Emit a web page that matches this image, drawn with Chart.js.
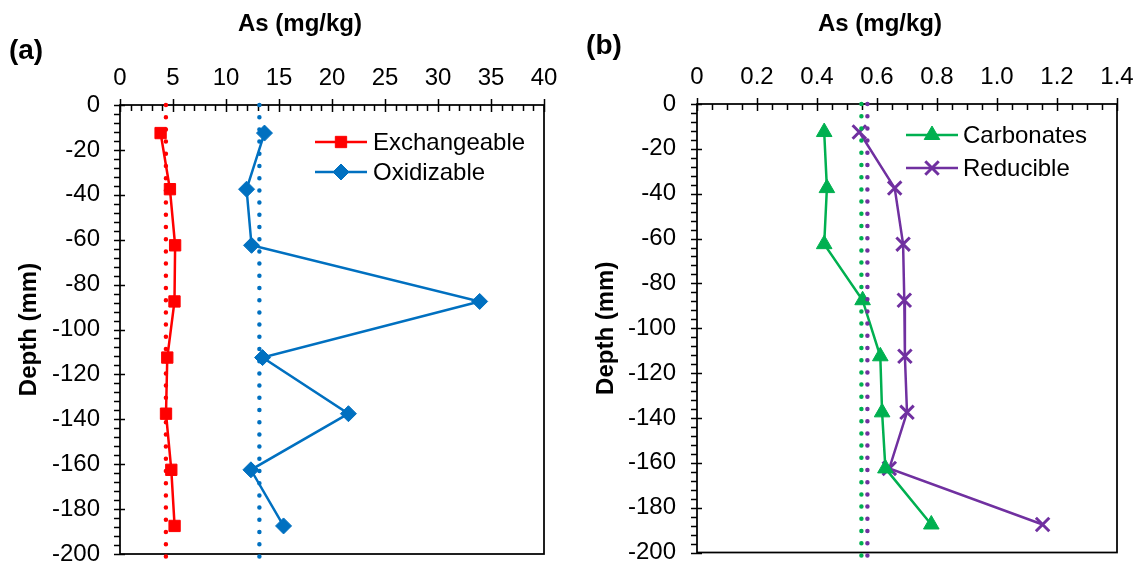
<!DOCTYPE html>
<html>
<head>
<meta charset="utf-8">
<script src="https://cdn.jsdelivr.net/npm/chart.js@4.4.0/dist/chart.umd.min.js"></script>
<style>
body { margin: 0; background: #fff; }
#wrap { position: relative; width: 1142px; height: 565px; overflow: hidden; font-family: "Liberation Sans", Arial, sans-serif; }
#wrap canvas { position: absolute; top: 0; }
.lbl { position: absolute; font-weight: bold; color: #000; line-height: 1; white-space: nowrap; transform: translate(-50%, -50%); }
</style>
</head>
<body>
<div id="wrap">
  <canvas id="chartA" width="571" height="565" style="left:0"></canvas>
  <canvas id="chartB" width="571" height="565" style="left:571px"></canvas>
  <div class="lbl" style="left:300px;top:23px;font-size:24px">As (mg/kg)</div>
  <div class="lbl" style="left:880px;top:23px;font-size:24px">As (mg/kg)</div>
  <div class="lbl" style="left:26px;top:50px;font-size:28px">(a)</div>
  <div class="lbl" style="left:604px;top:45px;font-size:28px">(b)</div>
</div>
<script>
// depth of each sampled layer (mm)
var depth = [-12.5, -37.5, -62.5, -87.5, -112.5, -137.5, -162.5, -187.5];

// panel (a)
var exchangeable = [3.83, 4.71, 5.2, 5.14, 4.46, 4.34, 4.84, 5.15];
var oxidizable = [13.63, 11.94, 12.41, 33.93, 13.45, 21.55, 12.35, 15.43];

// panel (b)
var carbonates = [0.424, 0.433, 0.424, 0.552, 0.611, 0.617, 0.628, 0.781];
var reducible = [0.541, 0.659, 0.687, 0.691, 0.693, 0.700, 0.641, 1.152];

// dotted reference lines
var refDepth = [0, -203];
var exchangeableRef = [4.33, 4.33];
var oxidizableRef = [13.15, 13.15];
var carbonatesRef = [0.548, 0.548];
var reducibleRef = [0.568, 0.568];

var xTicksA = { min: 0, max: 40, step: 5, minor: 1 };
var xTicksB = { min: 0, max: 1.4, step: 0.2, minor: 0.05 };
var yTicks = { min: -200, max: 0, step: 20, minor: 4 };

var RED = '#FF0000', BLUE = '#0070C0', GREEN = '#00B050', PURPLE = '#7030A0';

Chart.defaults.font.family = '"Liberation Sans", Arial, sans-serif';
Chart.defaults.font.size = 24;
Chart.defaults.color = '#000';

function pts(xs, ys) {
  return xs.map(function(v, i) { return { x: v, y: ys[i] }; });
}

function series(label, xs, color, style, radius, pbw) {
  return {
    label: label,
    data: pts(xs, depth),
    showLine: true,
    borderColor: color,
    backgroundColor: color,
    borderWidth: 2.5,
    pointStyle: style,
    pointRadius: radius,
    pointHoverRadius: radius,
    pointBorderWidth: pbw,
    pointBorderColor: color,
    pointBackgroundColor: color,
    order: 2
  };
}

function refLine(xs, color) {
  return {
    label: '',
    data: pts(xs, refDepth),
    showLine: true,
    borderColor: color,
    borderWidth: 4.5,
    borderDash: [0, 12.2],
    borderCapStyle: 'round',
    pointRadius: 0,
    pointHoverRadius: 0,
    clip: false,
    order: 1
  };
}

function drawMarker(ctx, style, x, y, r, color, bw) {
  ctx.save();
  ctx.fillStyle = color;
  ctx.strokeStyle = color;
  ctx.lineWidth = bw;
  ctx.beginPath();
  if (style === 'rect') {
    var s = r * Math.SQRT1_2;
    ctx.rect(x - s, y - s, 2 * s, 2 * s);
    ctx.fill(); ctx.stroke();
  } else if (style === 'rectRot') {
    ctx.moveTo(x - r, y); ctx.lineTo(x, y - r); ctx.lineTo(x + r, y); ctx.lineTo(x, y + r);
    ctx.closePath(); ctx.fill(); ctx.stroke();
  } else if (style === 'triangle') {
    ctx.moveTo(x, y - r);
    ctx.lineTo(x + r * 0.866, y + r * 0.5);
    ctx.lineTo(x - r * 0.866, y + r * 0.5);
    ctx.closePath(); ctx.fill(); ctx.stroke();
  } else if (style === 'crossRot') {
    var o = r * Math.SQRT1_2;
    ctx.moveTo(x - o, y - o); ctx.lineTo(x + o, y + o);
    ctx.moveTo(x - o, y + o); ctx.lineTo(x + o, y - o);
    ctx.stroke();
  }
  ctx.restore();
}

// box round the plot plus major/minor tick marks
var frameTicks = {
  id: 'frameTicks',
  beforeDatasetsDraw: function(chart, args, o) {
    var ctx = chart.ctx, a = chart.chartArea, xs = chart.scales.x, ys = chart.scales.y;
    ctx.save();
    ctx.strokeStyle = '#000';
    ctx.lineWidth = 1.75;
    ctx.strokeRect(a.left, a.top, a.right - a.left, a.bottom - a.top);
    ctx.lineWidth = 1.5;
    ctx.beginPath();
    var n = Math.round((o.x.max - o.x.min) / o.x.minor);
    var every = Math.round(o.x.step / o.x.minor);
    for (var i = 0; i <= n; i++) {
      var px = Math.round(xs.getPixelForValue(o.x.min + i * o.x.minor)) + 0.5;
      if (i % every === 0) { ctx.moveTo(px, a.top - 6); ctx.lineTo(px, a.top + 7); }
      else { ctx.moveTo(px, a.top); ctx.lineTo(px, a.top + 6); }
    }
    n = Math.round((o.y.max - o.y.min) / o.y.minor);
    every = Math.round(o.y.step / o.y.minor);
    for (i = 0; i <= n; i++) {
      var py = Math.round(ys.getPixelForValue(o.y.max - i * o.y.minor)) + 0.5;
      if (i % every === 0) { ctx.moveTo(a.left - 6, py); ctx.lineTo(a.left + 5, py); }
      else { ctx.moveTo(a.left - 6, py); ctx.lineTo(a.left, py); }
    }
    ctx.stroke();
    ctx.restore();
  }
};

// legend drawn inside the plot: line + marker + label
var insideLegend = {
  id: 'insideLegend',
  afterDraw: function(chart, args, o) {
    var ctx = chart.ctx;
    o.rows.forEach(function(r) {
      var ds = chart.data.datasets[r.index];
      ctx.save();
      ctx.strokeStyle = ds.borderColor;
      ctx.lineWidth = 2.5;
      ctx.beginPath();
      ctx.moveTo(o.x1, r.y); ctx.lineTo(o.x2, r.y);
      ctx.stroke();
      ctx.restore();
      drawMarker(ctx, ds.pointStyle, (o.x1 + o.x2) / 2, r.y, ds.pointRadius, ds.borderColor, ds.pointBorderWidth);
      ctx.save();
      ctx.fillStyle = '#000';
      ctx.font = '24px "Liberation Sans", Arial, sans-serif';
      ctx.textBaseline = 'middle';
      ctx.textAlign = 'left';
      ctx.fillText(ds.label, o.tx, r.y + 1);
      ctx.restore();
    });
  }
};

function makeChart(id, datasets, xt, lay) {
  return new Chart(document.getElementById(id), {
    type: 'scatter',
    data: { datasets: datasets },
    plugins: [frameTicks, insideLegend],
    options: {
      responsive: false,
      animation: false,
      devicePixelRatio: 1,
      layout: { padding: { left: 0, top: 0, right: lay.right, bottom: lay.bottom } },
      plugins: {
        legend: { display: false },
        tooltip: { enabled: false },
        frameTicks: { x: xt, y: yTicks },
        insideLegend: lay.legend
      },
      scales: {
        x: {
          type: 'linear',
          position: 'top',
          min: xt.min, max: xt.max,
          grid: { display: false, drawTicks: false },
          border: { display: false },
          ticks: { stepSize: xt.step, padding: 12, autoSkip: false, maxRotation: 0 },
          afterFit: function(s) { s.height = lay.top; s.paddingLeft = 0; s.paddingRight = 0; }
        },
        y: {
          type: 'linear',
          position: 'left',
          min: yTicks.min, max: yTicks.max,
          grid: { display: false, drawTicks: false },
          border: { display: false },
          ticks: { stepSize: yTicks.step, padding: lay.tickPad, autoSkip: false },
          title: { display: true, text: 'Depth (mm)', font: { size: 24, weight: 'bold' }, padding: { top: lay.titlePad, bottom: 0 } },
          afterFit: function(s) { s.width = lay.left; s.paddingTop = 0; s.paddingBottom = 0; }
        }
      }
    }
  });
}

makeChart('chartA', [
  refLine(exchangeableRef, RED),
  refLine(oxidizableRef, BLUE),
  series('Exchangeable', exchangeable, RED, 'rect', 8, 1),
  series('Oxidizable', oxidizable, BLUE, 'rectRot', 8, 1)
], xTicksA, {
  left: 120, top: 105, right: 27, bottom: 11, tickPad: 20, titlePad: 15,
  legend: { x1: 315, x2: 367, tx: 373, rows: [{ index: 2, y: 142 }, { index: 3, y: 172 }] }
});

makeChart('chartB', [
  refLine(carbonatesRef, GREEN),
  refLine(reducibleRef, PURPLE),
  series('Carbonates', carbonates, GREEN, 'triangle', 9, 1),
  series('Reducible', reducible, PURPLE, 'crossRot', 9.5, 3)
], xTicksB, {
  left: 126, top: 104, right: 25, bottom: 12, tickPad: 21, titlePad: 21,
  legend: { x1: 335, x2: 387, tx: 392, rows: [{ index: 2, y: 135 }, { index: 3, y: 168 }] }
});
</script>
</body>
</html>
